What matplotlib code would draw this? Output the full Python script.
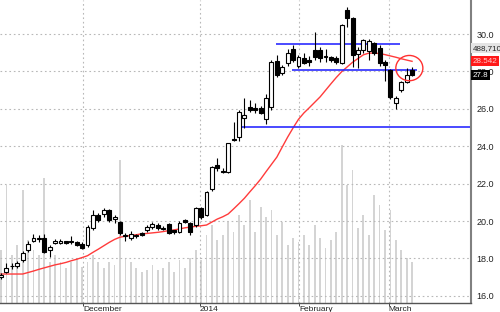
import numpy as np
import matplotlib.pyplot as plt
from matplotlib.patches import Ellipse

# daily candles
opens = [17.0, 17.3, 17.58, 17.6, 17.9, 18.45, 18.95, 19.05, 19.1, 18.45,
         18.85, 18.85, 18.92, 18.9, 18.88, 18.8, 18.7, 19.65, 20.3, 20.4,
         20.6, 20.1, 19.95, 19.2, 19.1, 19.2, 19.35, 19.5, 19.68, 19.8,
         19.58, 19.85, 19.5, 19.4, 20.05, 19.9, 19.8, 20.7, 20.3, 21.7,
         23.0, 22.7, 22.62, 24.4, 24.5, 25.5, 26.1, 26.02, 26.05, 25.45,
         26.1, 28.55, 27.9, 28.45, 29.2, 28.3, 28.7, 28.6, 29.15, 29.15,
         28.78, 28.75, 28.7, 28.45, 31.28, 30.85, 28.95, 29.15, 29.1, 29.5,
         29.25, 28.5, 28.07, 26.3, 27.0, 27.45, 28.1]
highs = [17.2, 17.75, 17.75, 17.85, 18.4, 18.95, 19.3, 19.25, 19.3, 18.7,
         19.05, 19.05, 18.95, 19.2, 18.95, 18.9, 19.8, 20.6, 20.45, 20.7,
         20.65, 20.35, 20.0, 19.35, 19.45, 19.3, 19.4, 19.8, 19.95, 19.9,
         19.75, 19.9, 19.55, 20.0, 20.1, 19.95, 20.75, 20.75, 21.6, 22.95,
         23.35, 22.85, 24.2, 25.3, 25.95, 26.6, 26.45, 26.3, 26.15, 26.8,
         28.6, 28.9, 28.35, 29.2, 29.4, 28.9, 29.0, 28.85, 30.1, 29.3,
         29.2, 28.85, 28.8, 30.55, 31.45, 30.9, 29.3, 29.75, 29.75, 29.6,
         29.4, 28.6, 28.15, 26.7, 27.5, 28.2, 28.25]
lows = [16.9, 17.2, 17.45, 17.5, 17.8, 18.35, 18.9, 18.9, 18.3, 18.1,
        18.75, 18.8, 18.8, 18.8, 18.65, 18.5, 18.6, 19.5, 19.95, 20.2,
        19.95, 19.9, 19.25, 18.95, 19.0, 19.1, 19.2, 19.4, 19.6, 19.55,
        19.5, 19.3, 19.3, 19.35, 19.9, 19.25, 19.7, 20.1, 20.25, 21.6,
        22.7, 22.55, 22.55, 24.3, 24.3, 25.0, 25.85, 25.8, 25.7, 25.2,
        25.95, 27.7, 27.8, 28.3, 28.5, 28.2, 28.4, 28.3, 28.6, 28.5,
        28.5, 28.5, 28.4, 28.4, 30.4, 28.24, 28.2, 29.0, 28.6, 28.9,
        28.3, 27.5, 26.55, 26.0, 26.9, 27.4, 27.75]
closes = [17.1, 17.5, 17.62, 17.78, 18.3, 18.8, 19.1, 19.12, 18.35, 18.6,
          18.95, 18.93, 18.85, 18.92, 18.72, 18.55, 19.7, 20.3, 20.05, 20.6,
          20.05, 20.2, 19.35, 19.23, 19.3, 19.22, 19.25, 19.68, 19.84, 19.62,
          19.62, 19.35, 19.4, 19.9, 19.95, 19.4, 20.7, 20.2, 21.55, 22.9,
          22.85, 22.65, 24.15, 24.35, 25.85, 25.67, 25.95, 25.95, 25.78, 26.6,
          28.5, 27.8, 28.25, 28.98, 28.6, 28.75, 28.45, 28.5, 28.77, 28.7,
          28.82, 28.6, 28.5, 30.5, 30.85, 28.88, 29.15, 29.68, 29.65, 29.0,
          28.45, 28.35, 26.63, 26.58, 27.42, 27.8, 27.8]
ma20 = [17.17, 17.17, 17.17, 17.17, 17.17, 17.25, 17.33, 17.42, 17.50, 17.58,
        17.66, 17.72, 17.79, 17.88, 17.96, 18.05, 18.15, 18.33, 18.50, 18.68,
        18.86, 19.02, 19.14, 19.19, 19.23, 19.27, 19.32, 19.34, 19.37, 19.40,
        19.44, 19.49, 19.53, 19.58, 19.64, 19.68, 19.72, 19.75, 19.79, 19.95,
        20.11, 20.23, 20.38, 20.65, 20.93, 21.22, 21.56, 21.89, 22.24, 22.64,
        23.03, 23.42, 23.96, 24.49, 24.98, 25.44, 25.78, 26.06, 26.35, 26.64,
        26.99, 27.34, 27.68, 27.99, 28.24, 28.49, 28.69, 28.89, 28.98, 28.98,
        28.96, 28.90, 28.83, 28.76, 28.68, 28.61, 28.542]
volume = [632000, 1407000, 572000, 691000, 1347000, 751000, 632000, 572000, 1490000, 489000,
          572000, 489000, 417000, 489000, 536000, 429000, 489000, 572000, 489000, 417000,
          489000, 453000, 1705000, 536000, 489000, 417000, 370000, 393000, 453000, 393000,
          417000, 489000, 370000, 513000, 417000, 536000, 632000, 513000, 811000, 930000,
          751000, 811000, 966000, 846000, 1049000, 930000, 1228000, 846000, 1144000, 1025000,
          1109000, 811000, 966000, 691000, 775000, 727000, 811000, 691000, 930000, 775000,
          656000, 751000, 846000, 1883000, 1407000, 1585000, 894000, 1049000, 811000, 1287000,
          1168000, 870000, 1109000, 751000, 632000, 536000, 488710]

month_pos = [15.2, 36.8, 55.1, 71.7]
month_labels = ['December', '2014', 'February', 'March']
price_ticks = [16, 18, 20, 22, 24, 26, 28, 30]

# drawn support / resistance lines and the marked spot
levels = [29.45, 28.07, 25.05]
level_start = [50.9, 53.8, 44.2]
level_end = [73.8, 76.9, 86.7]
circle_center = (75.5, 28.18)

plt.rcParams['font.family'] = ['Liberation Sans', 'DejaVu Sans']

fig = plt.figure(figsize=(5, 3.12), dpi=100)
ax = fig.add_axes([0, 0.0288, 0.942, 0.9712])
axv = ax.twinx()
ax.set_zorder(axv.get_zorder() + 1)
ax.patch.set_visible(False)

idx = np.arange(len(closes))

# volume in the background
axv.bar(idx, volume, width=0.33, color='#d4d4d4', linewidth=0)
axv.set_ylim(0, 3612000)
axv.set_yticks([])
for s in axv.spines.values():
    s.set_visible(False)

# moving average
ax.plot(idx, ma20, color='#ff3b3b', lw=1.0, zorder=3)

# blue lines
ax.hlines(levels, level_start, level_end, color='#2b2bff', lw=1.2, zorder=3)

# candles
o = np.array(opens); c = np.array(closes)
up = c >= o
ax.vlines(idx, lows, highs, color='black', lw=0.8, zorder=4)
bot = np.minimum(o, c)
hgt = np.maximum(np.abs(c - o), 0.03)
ax.bar(idx[up], hgt[up], bottom=bot[up], width=0.72, facecolor='white',
       edgecolor='black', lw=0.8, zorder=5)
ax.bar(idx[~up], hgt[~up], bottom=bot[~up], width=0.72, facecolor='black',
       edgecolor='black', lw=0.8, zorder=5)

ax.add_patch(Ellipse(circle_center, 5.0, 1.35, fill=False, edgecolor='#ff3030',
                     lw=1.0, zorder=6))

ax.set_xlim(-0.185, 86.9)
ax.set_ylim(15.62, 31.82)

ax.yaxis.tick_right()
ax.set_yticks(price_ticks)
ax.set_yticklabels(['%.1f' % t for t in price_ticks])
ax.tick_params(axis='y', length=0, pad=4, labelsize=6.5, labelcolor='#222222')
ax.set_xticks(month_pos)
ax.set_xticklabels(month_labels, ha='left')
ax.tick_params(axis='x', length=2.5, width=0.7, pad=-0.5, labelsize=6,
               labelcolor='#222222', color='#444444')

ax.grid(True, linestyle=(0, (1.5, 2.5)), color='#b8b8b8', lw=0.8)
ax.set_axisbelow(True)

ax.spines['left'].set_visible(False)
ax.spines['top'].set_visible(False)
ax.spines['right'].set_color('#808080')
ax.spines['right'].set_linewidth(1.5)
ax.spines['bottom'].set_color('#555555')
ax.spines['bottom'].set_linewidth(1.0)

# value boxes on the right
tr = ax.get_yaxis_transform()
box = dict(boxstyle='square,pad=0.2', ec='none')
ax.annotate('%.3f' % ma20[-1], (1.003, ma20[-1]), xycoords=tr,
            fontsize=5.8, color='#ffd0d0', va='center', ha='left',
            bbox=dict(box, fc='#ff1a1a'), annotation_clip=False, zorder=10)
ax.annotate('{:,}'.format(volume[-1]), (1.003, ma20[-1]), xycoords=tr,
            xytext=(0, 9.5), textcoords='offset points',
            fontsize=5.8, color='#222222', va='center', ha='left',
            bbox=dict(box, fc='#e4e4e4'), annotation_clip=False, zorder=10)
ax.annotate('%.1f' % closes[-1], (1.003, closes[-1]), xycoords=tr,
            fontsize=5.8, color='white', va='center', ha='left',
            bbox=dict(box, fc='black'), annotation_clip=False, zorder=10)

fig.savefig('out.png', dpi=100)
